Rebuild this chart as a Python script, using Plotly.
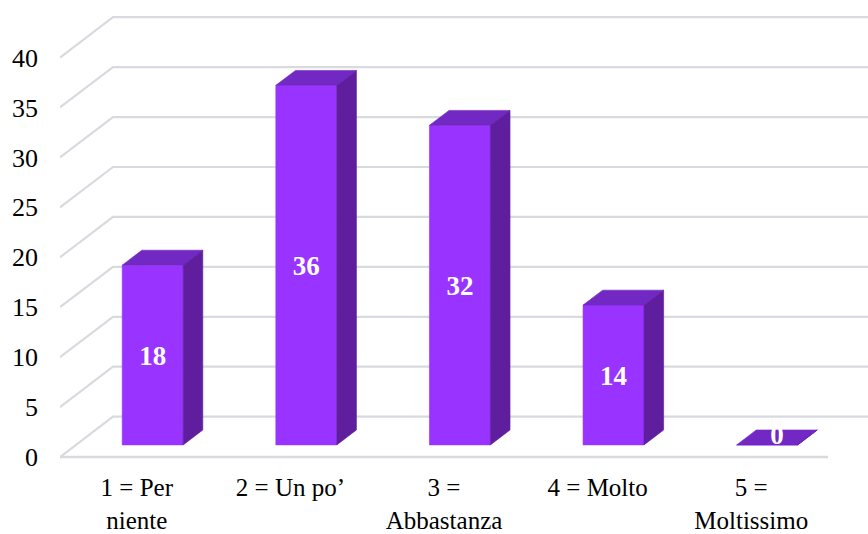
import plotly.graph_objects as go

# ---- data ----
categories = ["1 = Per<br>niente", "2 = Un po’", "3 =<br>Abbastanza", "4 = Molto", "5 =<br>Moltissimo"]
values = [18, 36, 32, 14, 0]
y_ticks = [0, 5, 10, 15, 20, 25, 30, 35, 40]

# ---- pseudo-3D geometry (data units) ----
DX, DY = 0.345, 4.04        # offset of the back wall
D_FRONT, D_BACK = 0.30, 0.67  # bar depth span (fraction of wall depth)
BAR_W = 0.397
GRID = "#d9dae0"
FRONT, TOP, SIDE = "#9933ff", "#7228c2", "#5f1e9e"
FONT = "Liberation Serif, Times New Roman, serif"
XMAX = 5.26

def P(x, y, d):
    return x + d * DX, y + d * DY

fig = go.Figure()

# gridlines: left wall diagonal + back wall horizontal
for t in y_ticks:
    x1, y1 = P(0, t, 0)
    x2, y2 = P(0, t, 1)
    fig.add_trace(go.Scatter(x=[x1, x2, XMAX + 1], y=[y1, y2, y2], mode="lines",
                             line=dict(color=GRID, width=2.2), hoverinfo="skip"))
# floor front edge
n = len(categories)
fx1, fy1 = P(n, 0, 0)
fig.add_trace(go.Scatter(x=[0, fx1], y=[0, fy1], mode="lines",
                         line=dict(color=GRID, width=2.6), hoverinfo="skip"))

def face(pts, color):
    xs = [p[0] for p in pts] + [pts[0][0]]
    ys = [p[1] for p in pts] + [pts[0][1]]
    fig.add_trace(go.Scatter(x=xs, y=ys, mode="lines", fill="toself", fillcolor=color,
                             line=dict(color=color, width=0.6), hoverinfo="skip"))

lab_x, lab_y = [], []
for i, v in enumerate(values):
    x0 = i + 0.5 - BAR_W / 2
    x1 = x0 + BAR_W
    face([P(x0, 0, D_FRONT), P(x1, 0, D_FRONT), P(x1, v, D_FRONT), P(x0, v, D_FRONT)], FRONT)
    face([P(x0, v, D_FRONT), P(x1, v, D_FRONT), P(x1, v, D_BACK), P(x0, v, D_BACK)], TOP)
    face([P(x1, 0, D_FRONT), P(x1, 0, D_BACK), P(x1, v, D_BACK), P(x1, v, D_FRONT)], SIDE)
    if v > 0:
        lx, ly = P((x0 + x1) / 2, v / 2 - 0.35, D_FRONT)
    else:
        lx, ly = P((x0 + x1) / 2, 0, (D_FRONT + D_BACK) / 2)
    lab_x.append(lx)
    lab_y.append(ly)

fig.add_trace(go.Scatter(x=lab_x, y=lab_y, mode="text", text=[str(v) for v in values],
                         textposition="middle center",
                         textfont=dict(family=FONT, size=27, color="white", weight="bold"),
                         hoverinfo="skip"))

fig.update_layout(
    width=868, height=534,
    margin=dict(l=60, r=0, t=0, b=69),
    paper_bgcolor="white", plot_bgcolor="white",
    showlegend=False,
    xaxis=dict(range=[0, XMAX], tickvals=[i + 0.5 for i in range(n)], ticktext=categories,
               showgrid=False, zeroline=False, showline=False, ticks="",
               tickfont=dict(family=FONT, size=25, color="black"), ticklabelstandoff=7,
               fixedrange=True),
    yaxis=dict(range=[-0.6, 45.76], tickvals=y_ticks, showgrid=False, zeroline=False,
               showline=False, ticks="",
               tickfont=dict(family=FONT, size=26, color="black"), ticklabelstandoff=21,
               fixedrange=True),
)

fig.write_html("out.html")
